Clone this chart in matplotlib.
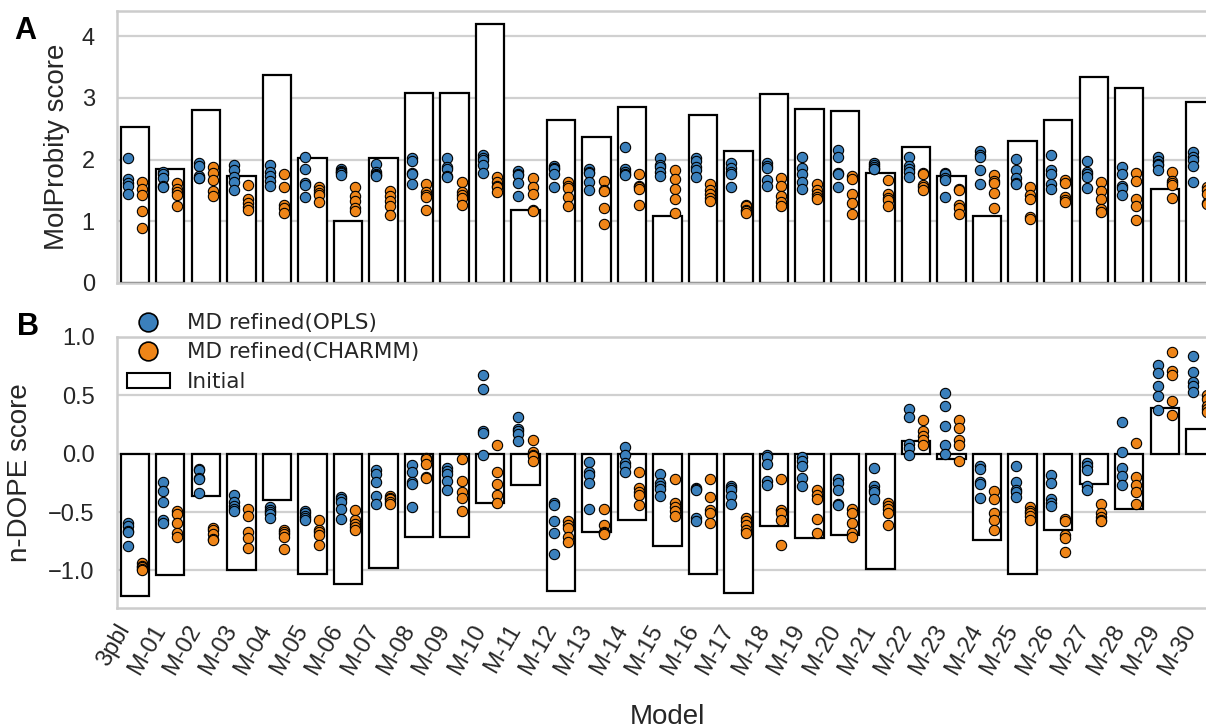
import matplotlib
matplotlib.use('Agg')
import matplotlib.pyplot as plt
from matplotlib.lines import Line2D
from matplotlib.patches import Patch
import numpy as np

models = ['3pbl'] + ['M-%02d' % i for i in range(1, 31)]

# MolProbity score
initial_molp = [2.53, 1.84, 2.80, 1.73, 3.37, 2.03, 1.00, 2.02, 3.08, 3.08,
                4.20, 1.19, 2.65, 2.36, 2.85, 1.08, 2.73, 2.14, 3.06, 2.82,
                2.79, 1.78, 2.21, 1.73, 1.08, 2.31, 2.64, 3.34, 3.16, 1.53, 2.93]
opls_molp = [
    [2.02, 1.69, 1.62, 1.57, 1.45], [1.80, 1.76, 1.71, 1.58, 1.56],
    [1.94, 1.90, 1.73, 1.71, 1.70], [1.92, 1.83, 1.72, 1.63, 1.50],
    [1.91, 1.80, 1.74, 1.66, 1.57], [2.04, 1.84, 1.62, 1.59, 1.39],
    [1.84, 1.82, 1.80, 1.78, 1.75], [1.93, 1.80, 1.77, 1.75, 1.73],
    [2.03, 1.97, 1.78, 1.77, 1.60], [2.03, 1.88, 1.85, 1.74, 1.72],
    [2.08, 2.03, 1.99, 1.91, 1.79], [1.82, 1.77, 1.75, 1.62, 1.41],
    [1.90, 1.87, 1.85, 1.77, 1.55], [1.84, 1.80, 1.78, 1.63, 1.51],
    [2.20, 1.84, 1.80, 1.77, 1.75], [2.02, 1.92, 1.88, 1.80, 1.73],
    [2.02, 1.97, 1.88, 1.83, 1.72], [1.94, 1.86, 1.80, 1.77, 1.56],
    [1.95, 1.90, 1.86, 1.67, 1.58], [2.04, 1.86, 1.77, 1.63, 1.53],
    [2.16, 2.04, 1.79, 1.76, 1.55], [1.95, 1.92, 1.88, 1.85, 1.84],
    [2.04, 1.89, 1.85, 1.80, 1.72], [1.79, 1.76, 1.70, 1.67, 1.39],
    [2.14, 2.07, 2.04, 1.83, 1.61], [2.01, 1.83, 1.71, 1.62, 1.60],
    [2.08, 1.83, 1.77, 1.60, 1.52], [1.98, 1.80, 1.76, 1.72, 1.54],
    [1.88, 1.76, 1.58, 1.54, 1.43], [2.04, 1.97, 1.93, 1.91, 1.83],
    [2.13, 2.04, 1.99, 1.89, 1.64]]
charmm_molp = [
    [1.64, 1.53, 1.43, 1.17, 0.89], [1.62, 1.52, 1.48, 1.42, 1.24],
    [1.88, 1.78, 1.67, 1.49, 1.41], [1.59, 1.36, 1.30, 1.23, 1.19],
    [1.76, 1.55, 1.26, 1.22, 1.14], [1.55, 1.50, 1.46, 1.42, 1.32],
    [1.55, 1.41, 1.33, 1.21, 1.16], [1.49, 1.41, 1.33, 1.24, 1.10],
    [1.61, 1.48, 1.43, 1.39, 1.19], [1.63, 1.47, 1.42, 1.38, 1.27],
    [1.72, 1.64, 1.58, 1.55, 1.47], [1.70, 1.55, 1.44, 1.19, 1.17],
    [1.63, 1.58, 1.54, 1.40, 1.25], [1.65, 1.51, 1.49, 1.22, 0.96],
    [1.76, 1.57, 1.55, 1.53, 1.27], [1.83, 1.69, 1.53, 1.36, 1.13],
    [1.61, 1.51, 1.45, 1.38, 1.33], [1.27, 1.24, 1.19, 1.16, 1.13],
    [1.71, 1.57, 1.41, 1.32, 1.24], [1.60, 1.50, 1.44, 1.39, 1.36],
    [1.74, 1.69, 1.44, 1.30, 1.12], [1.67, 1.44, 1.38, 1.34, 1.25],
    [1.79, 1.77, 1.59, 1.55, 1.51], [1.53, 1.50, 1.26, 1.22, 1.12],
    [1.75, 1.66, 1.62, 1.46, 1.22], [1.55, 1.42, 1.36, 1.07, 1.04],
    [1.67, 1.62, 1.39, 1.35, 1.31], [1.63, 1.49, 1.36, 1.20, 1.15],
    [1.78, 1.65, 1.36, 1.25, 1.02], [1.80, 1.65, 1.62, 1.59, 1.38],
    [1.55, 1.50, 1.45, 1.30, 1.28]]

# normalized DOPE score
initial_dope = [-1.22, -1.04, -0.36, -1.00, -0.40, -1.03, -1.12, -0.98, -0.71, -0.71,
                -0.42, -0.27, -1.18, -0.67, -0.57, -0.79, -1.03, -1.19, -0.62, -0.72,
                -0.70, -0.99, 0.11, -0.05, -0.74, -1.03, -0.65, -0.26, -0.47, 0.39, 0.21]
opls_dope = [
    [-0.59, -0.62, -0.66, -0.67, -0.79], [-0.24, -0.32, -0.41, -0.57, -0.59],
    [-0.13, -0.14, -0.21, -0.22, -0.34], [-0.35, -0.41, -0.45, -0.47, -0.49],
    [-0.46, -0.48, -0.50, -0.52, -0.55], [-0.49, -0.51, -0.53, -0.55, -0.57],
    [-0.37, -0.39, -0.41, -0.47, -0.56], [-0.14, -0.17, -0.24, -0.36, -0.43],
    [-0.10, -0.16, -0.24, -0.26, -0.46], [-0.12, -0.15, -0.17, -0.23, -0.31],
    [0.67, 0.55, 0.19, 0.18, -0.01], [0.31, 0.21, 0.19, 0.17, 0.11],
    [-0.42, -0.44, -0.58, -0.68, -0.86], [-0.07, -0.16, -0.18, -0.25, -0.47],
    [0.06, -0.01, -0.08, -0.11, -0.16], [-0.17, -0.25, -0.28, -0.30, -0.36],
    [-0.29, -0.30, -0.31, -0.55, -0.58], [-0.28, -0.29, -0.31, -0.36, -0.43],
    [-0.01, -0.03, -0.09, -0.23, -0.27], [-0.03, -0.06, -0.11, -0.21, -0.28],
    [-0.22, -0.25, -0.31, -0.43, -0.44], [-0.12, -0.28, -0.31, -0.33, -0.39],
    [0.38, 0.31, 0.08, 0.05, -0.01], [0.52, 0.41, 0.24, 0.07, 0.00],
    [-0.11, -0.13, -0.24, -0.26, -0.38], [-0.11, -0.24, -0.31, -0.33, -0.37],
    [-0.18, -0.25, -0.39, -0.42, -0.45], [-0.08, -0.11, -0.14, -0.28, -0.31],
    [0.27, 0.01, -0.12, -0.19, -0.27], [0.76, 0.69, 0.58, 0.49, 0.37],
    [0.84, 0.70, 0.61, 0.58, 0.53]]
charmm_dope = [
    [-0.94, -0.96, -0.97, -0.99, -1.00], [-0.49, -0.52, -0.59, -0.68, -0.71],
    [-0.64, -0.65, -0.69, -0.73, -0.74], [-0.47, -0.53, -0.67, -0.72, -0.81],
    [-0.65, -0.67, -0.69, -0.71, -0.82], [-0.57, -0.65, -0.67, -0.70, -0.78],
    [-0.48, -0.57, -0.60, -0.63, -0.65], [-0.36, -0.38, -0.39, -0.41, -0.43],
    [-0.04, -0.05, -0.09, -0.20, -0.21], [-0.05, -0.23, -0.33, -0.38, -0.49],
    [0.07, -0.16, -0.26, -0.35, -0.42], [0.12, 0.01, -0.01, -0.02, -0.06],
    [-0.58, -0.61, -0.64, -0.71, -0.76], [-0.47, -0.61, -0.67, -0.68, -0.69],
    [-0.16, -0.29, -0.33, -0.35, -0.44], [-0.22, -0.42, -0.46, -0.49, -0.53],
    [-0.22, -0.37, -0.48, -0.51, -0.59], [-0.55, -0.58, -0.61, -0.65, -0.68],
    [-0.22, -0.48, -0.51, -0.57, -0.78], [-0.31, -0.35, -0.39, -0.56, -0.68],
    [-0.47, -0.51, -0.59, -0.68, -0.71], [-0.42, -0.45, -0.47, -0.51, -0.61],
    [0.29, 0.19, 0.15, 0.12, 0.07], [0.29, 0.22, 0.12, 0.07, -0.06],
    [-0.32, -0.39, -0.51, -0.57, -0.65], [-0.46, -0.49, -0.51, -0.53, -0.57],
    [-0.56, -0.58, -0.70, -0.72, -0.84], [-0.43, -0.51, -0.54, -0.57, -0.58],
    [0.09, -0.20, -0.27, -0.33, -0.43], [0.87, 0.71, 0.67, 0.45, 0.33],
    [0.50, 0.47, 0.41, 0.38, 0.36]]

blue = '#3b80bc'
orange = '#ef8518'
txt = '#262626'
sans = 'Liberation Sans'

plt.rcParams['font.family'] = sans
plt.rcParams['axes.axisbelow'] = True

fig = plt.figure(figsize=(12.06, 7.28), dpi=100)
ax1 = fig.add_axes([0.097, 0.6113, 0.913, 0.3736])
ax2 = fig.add_axes([0.097, 0.1648, 0.913, 0.3723])

x = np.arange(len(models))


def draw(ax, initial, opls, charmm):
    ax.bar(x, initial, width=0.8, facecolor='white', edgecolor='black',
           linewidth=1.6, zorder=2)
    for i in range(len(models)):
        ax.scatter(np.full(len(opls[i]), x[i] - 0.2), opls[i], s=55, color=blue,
                   edgecolor='black', linewidth=0.8, zorder=3)
        ax.scatter(np.full(len(charmm[i]), x[i] + 0.2), charmm[i], s=55,
                   color=orange, edgecolor='black', linewidth=0.8, zorder=3)
    ax.set_xlim(-0.5, len(models) - 0.5)
    ax.grid(axis='y', color='#d0d0d0', linewidth=1.6)
    ax.grid(axis='x', visible=False)
    for s in ax.spines.values():
        s.set_color('#cccccc')
        s.set_linewidth(1.8)
    ax.tick_params(length=0, labelsize=17, colors=txt, pad=16)
    ax.set_xticks(x)


draw(ax1, initial_molp, opls_molp, charmm_molp)
ax1.set_ylim(0, 4.41)
ax1.set_yticks([0, 1, 2, 3, 4])
ax1.set_xticklabels([])
ax1.set_ylabel('MolProbity score', fontsize=20, color=txt)
ax1.yaxis.set_label_coords(-0.0427, 0.5)

draw(ax2, initial_dope, opls_dope, charmm_dope)
ax2.set_ylim(-1.323, 1.0)
ax2.set_yticks([-1.0, -0.5, 0.0, 0.5, 1.0])
ax2.set_yticklabels(['\u22121.0', '\u22120.5', '0.0', '0.5', '1.0'])
ax2.set_xticklabels(models, rotation=60, ha='right')
ax2.tick_params(axis='x', pad=9)
ax2.set_ylabel('n-DOPE score', fontsize=20, color=txt)
ax2.yaxis.set_label_coords(-0.076, 0.5)
ax2.set_xlabel('Model', fontsize=20, color=txt)
ax2.xaxis.set_label_coords(0.5, -0.354)

handles = [
    Line2D([], [], marker='o', linestyle='none', markersize=13.5,
           markerfacecolor=blue, markeredgecolor='black', markeredgewidth=1.2),
    Line2D([], [], marker='o', linestyle='none', markersize=13.5,
           markerfacecolor=orange, markeredgecolor='black', markeredgewidth=1.2),
    Patch(facecolor='white', edgecolor='black', linewidth=1.5)]
ax2.legend(handles, ['MD refined(OPLS)', 'MD refined(CHARMM)', 'Initial'],
           loc='upper left', bbox_to_anchor=(0.009, 1.088), frameon=False,
           borderpad=0, borderaxespad=0, labelspacing=0.43, handlelength=2.0,
           handletextpad=0.8, labelcolor=txt,
           prop={'family': 'DejaVu Sans', 'size': 15.5})

fig.text(0.012, 0.957, 'A', fontsize=22, fontweight='bold', va='center')
fig.text(0.014, 0.551, 'B', fontsize=22, fontweight='bold', va='center')

fig.savefig('out.png', dpi=100)
